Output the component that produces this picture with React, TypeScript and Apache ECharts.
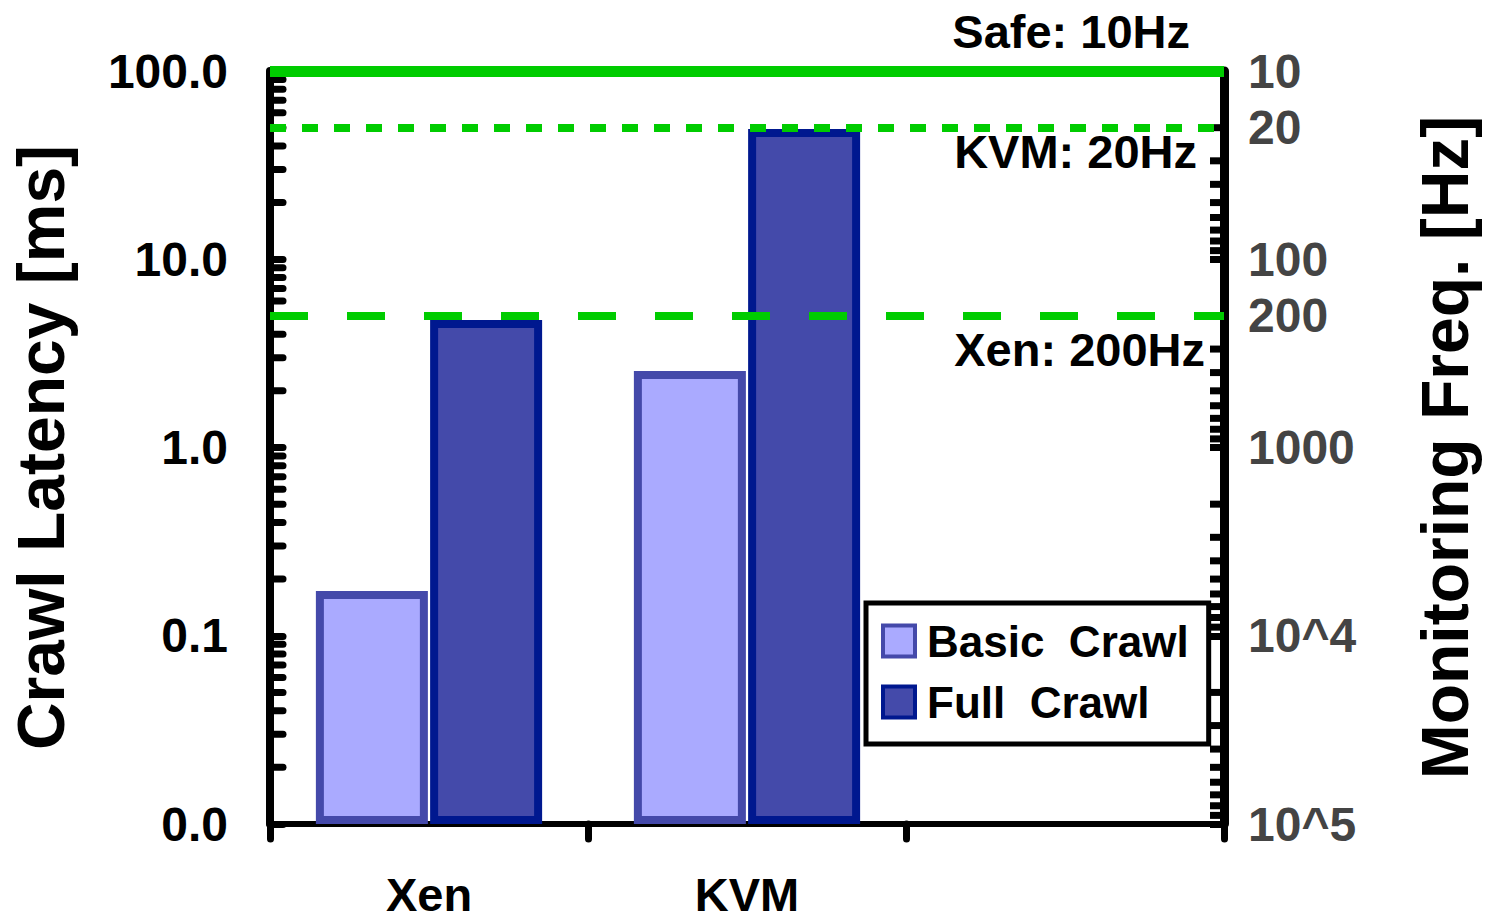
import React, { useEffect, useRef } from 'react';
import * as echarts from 'echarts';

const categories = ['Xen', 'KVM', ''];
const seriesNames = ['Basic  Crawl', 'Full  Crawl'];
const basicCrawl = [0.173, 2.55];
const fullCrawl = [4.76, 49.2];
const thresholdMs = [100, 50, 5];
const thresholdLabels = ['Safe: 10Hz', 'KVM: 20Hz', 'Xen: 200Hz'];
const leftTickValues = [0.01, 0.1, 1, 10, 100];
const leftTickLabels = ['0.0', '0.1', '1.0', '10.0', '100.0'];
const rightTickValues = [10, 20, 100, 200, 1000, 10000, 100000];
const rightTickLabels = ['10', '20', '100', '200', '1000', '10^4', '10^5'];
const rightExtraLabelValues = [20, 200];
const minorMultipliers = [2, 3, 4, 5, 6, 7, 8, 9];
const leftDecades = [0.01, 0.1, 1, 10];
const rightDecades = [10, 100, 1000, 10000];

const FONT = '"Liberation Sans", Arial, Helvetica, sans-serif';
const GREEN = '#00CC00';

const leftMinor = leftDecades.flatMap((d) => minorMultipliers.map((m) => [0, m * d]));
const rightMinor = rightDecades.flatMap((d) => minorMultipliers.map((m) => [0, m * d]));

function findLabel(values: number[], labels: string[], v: number) {
  const i = values.findIndex((t) => Math.abs(t - v) / t < 1e-6);
  return i >= 0 ? labels[i] : '';
}

export default function App() {
  const ref = useRef<HTMLDivElement>(null);
  useEffect(() => {
    document.body.style.margin = '0';
    const chart = echarts.init(ref.current!, null, { renderer: 'svg' });
    const option: any = {
      animation: false,
      backgroundColor: '#fff',
      textStyle: { fontFamily: FONT },
      grid: { left: 270, right: 261, top: 71, bottom: 98, outerBoundsMode: 'none', containLabel: false },
      legend: {
        data: seriesNames,
        orient: 'vertical',
        left: 866,
        top: 603,
        icon: 'rect',
        itemWidth: 32,
        itemHeight: 31,
        itemGap: 17,
        padding: [16, 20, 20, 15],
        borderColor: '#000',
        borderWidth: 5,
        borderRadius: 0,
        backgroundColor: '#fff',
        itemStyle: { borderWidth: 4 },
        textStyle: { fontSize: 44, fontWeight: 'bold', color: '#000', fontFamily: FONT, padding: [0, 0, 0, 7] },
        selectedMode: false,
      },
      xAxis: {
        type: 'category',
        data: categories,
        boundaryGap: true,
        axisLine: { show: true, lineStyle: { color: '#000', width: 6, cap: 'round' } },
        axisTick: { show: true, length: 15, alignWithLabel: false, lineStyle: { color: '#000', width: 7, cap: 'round' } },
        axisLabel: { fontSize: 47, fontWeight: 'bold', color: '#000', margin: 50, lineHeight: 40, fontFamily: FONT },
        splitLine: { show: false },
      },
      yAxis: [
        {
          type: 'log',
          logBase: 10,
          min: 0.01,
          max: 100,
          startValue: 0.01,
          position: 'left',
          name: 'Crawl Latency [ms]',
          nameLocation: 'middle',
          nameRotate: 90,
          nameGap: 196,
          nameTextStyle: { fontSize: 66, fontWeight: 'bold', color: '#000', fontFamily: FONT },
          axisLine: { show: true, lineStyle: { color: '#000', width: 8, cap: 'round' } },
          axisTick: { show: true, inside: true, length: 13, lineStyle: { color: '#000', width: 7, cap: 'round' } },
          axisLabel: {
            fontSize: 48,
            fontWeight: 'bold',
            color: '#000',
            margin: 42,
            fontFamily: FONT,
            formatter: (v: number) => findLabel(leftTickValues, leftTickLabels, v),
          },
          splitLine: { show: false },
          minorTick: { show: false },
        },
        {
          type: 'log',
          logBase: 10,
          min: 10,
          max: 100000,
          inverse: true,
          position: 'right',
          name: 'Monitoring Freq. [Hz]',
          nameLocation: 'middle',
          nameRotate: 90,
          nameGap: 188,
          nameTextStyle: { fontSize: 66, fontWeight: 'bold', color: '#000', fontFamily: FONT },
          axisLine: { show: true, lineStyle: { color: '#000', width: 9 } },
          axisTick: { show: true, inside: true, length: 14, lineStyle: { color: '#000', width: 7 } },
          axisLabel: {
            fontSize: 48,
            fontWeight: 'bold',
            color: '#444',
            margin: 24,
            fontFamily: FONT,
            formatter: (v: number) => findLabel(rightTickValues, rightTickLabels, v),
          },
          splitLine: { show: false },
        },
      ],
      series: [
        {
          name: seriesNames[0],
          type: 'bar',
          data: basicCrawl,
          barWidth: 112,
          barGap: '2%',
          itemStyle: { color: '#AAAAFF', borderColor: '#4449AA', borderWidth: 8 },
        },
        {
          name: seriesNames[1],
          type: 'bar',
          data: fullCrawl,
          barWidth: 112,
          barGap: '2%',
          itemStyle: { color: '#444AAA', borderColor: '#00188F', borderWidth: 8 },
          markLine: {
            silent: true,
            symbol: 'none',
            label: { show: true, fontSize: 47, fontWeight: 'bold', color: '#000', fontFamily: FONT },
            data: [
              {
                yAxis: thresholdMs[0],
                lineStyle: { color: GREEN, width: 11, type: 'solid' },
                label: { formatter: thresholdLabels[0], position: 'insideEndTop', distance: [34, 16] },
              },
              {
                yAxis: thresholdMs[1],
                lineStyle: { color: GREEN, width: 8, type: [16, 16] },
                label: { formatter: thresholdLabels[1], position: 'insideEndBottom', distance: [27, 0] },
              },
              {
                yAxis: thresholdMs[2],
                lineStyle: { color: GREEN, width: 8, type: [38, 39] },
                label: { formatter: thresholdLabels[2], position: 'insideEndBottom', distance: [19, 10] },
              },
            ],
          },
        },
        {
          name: 'leftMinorTicks',
          type: 'custom',
          xAxisIndex: 0,
          yAxisIndex: 0,
          silent: true,
          data: leftMinor,
          renderItem: (params: any, api: any) => {
            const cs = params.coordSys;
            const y = api.coord([0, api.value(1)])[1];
            return {
              type: 'line',
              shape: { x1: cs.x, y1: y, x2: cs.x + 13, y2: y },
              style: { stroke: '#000', lineWidth: 7, lineCap: 'round' },
            };
          },
        },
        {
          name: 'rightMinorTicks',
          type: 'custom',
          xAxisIndex: 0,
          yAxisIndex: 1,
          silent: true,
          data: rightMinor,
          renderItem: (params: any, api: any) => {
            const cs = params.coordSys;
            const y = api.coord([0, api.value(1)])[1];
            const xr = cs.x + cs.width;
            return {
              type: 'line',
              shape: { x1: xr, y1: y, x2: xr - 14, y2: y },
              style: { stroke: '#000', lineWidth: 7 },
            };
          },
        },
        {
          name: 'rightExtraLabels',
          type: 'custom',
          xAxisIndex: 0,
          yAxisIndex: 1,
          silent: true,
          data: rightExtraLabelValues.map((v) => [0, v]),
          renderItem: (params: any, api: any) => {
            const cs = params.coordSys;
            const v = api.value(1);
            const y = api.coord([0, v])[1];
            return {
              type: 'text',
              x: cs.x + cs.width + 24,
              y: y,
              style: {
                text: findLabel(rightTickValues, rightTickLabels, v),
                fill: '#444',
                fontSize: 48,
                fontWeight: 'bold',
                fontFamily: FONT,
                align: 'left',
                verticalAlign: 'middle',
              },
            };
          },
        },
      ],
    };
    chart.setOption(option);
    return () => chart.dispose();
  }, []);
  return <div ref={ref} style={{ width: 1485, height: 922 }} />;
}
